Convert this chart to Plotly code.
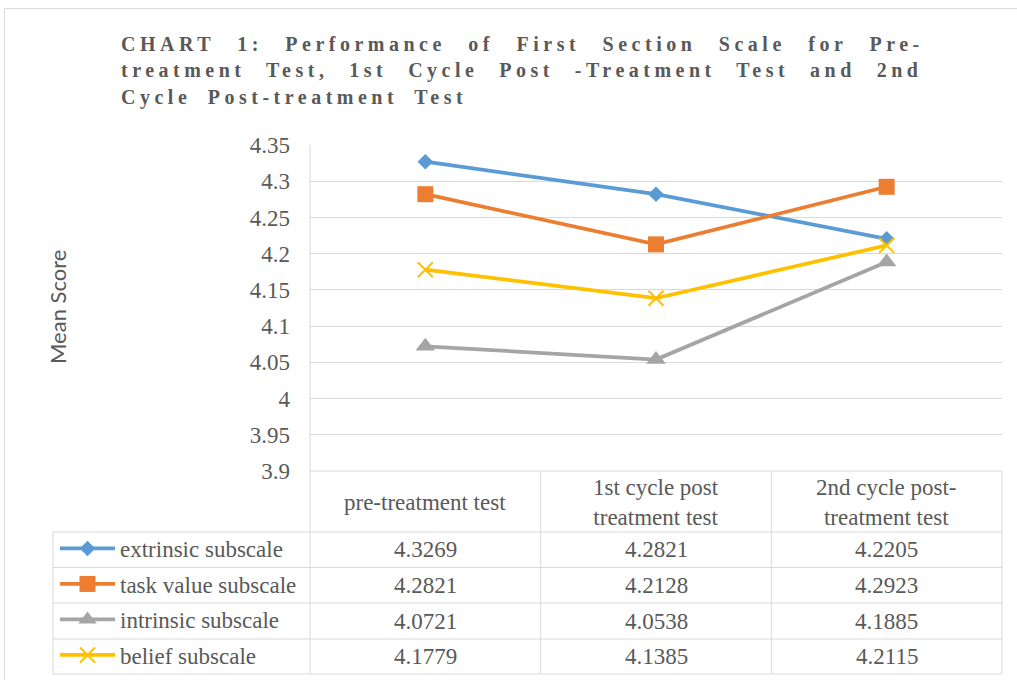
import plotly.graph_objects as go

# ---------------- data ----------------
categories = ["pre-treatment test", "1st cycle post treatment test", "2nd cycle post-treatment test"]
header_labels = ["pre-treatment test", "1st cycle post<br>treatment test", "2nd cycle post-<br>treatment test"]

series_names = ["extrinsic subscale", "task value subscale", "intrinsic subscale", "belief subscale"]
extrinsic = [4.3269, 4.2821, 4.2205]
task_value = [4.2821, 4.2128, 4.2923]
intrinsic = [4.0721, 4.0538, 4.1885]
belief = [4.1779, 4.1385, 4.2115]

tick_vals = [3.9, 3.95, 4.0, 4.05, 4.1, 4.15, 4.2, 4.25, 4.3, 4.35]
tick_text = ["3.9", "3.95", "4", "4.05", "4.1", "4.15", "4.2", "4.25", "4.3", "4.35"]

title_lines = [
    "CHART 1: Performance of First Section Scale for Pre-",
    "treatment Test, 1st Cycle Post -Treatment Test and 2nd",
    "Cycle Post-treatment Test",
]
y_title = "Mean Score"

# ---------------- styling ----------------
W, H = 1017, 680
colors = ["#5B9BD5", "#ED7D31", "#A5A5A5", "#FFC000"]
symbols = ["diamond", "square", "triangle-up", "x-thin"]
msizes = [12, 16, 17, 15]
TXT = "#595959"
GRID = "#D9D9D9"
SERIF = "Liberation Serif, Times New Roman, serif"
TFS = 23  # table / tick font size


def px_x(x):
    return x / W


def px_y(y):
    return 1 - y / H


plot_l, plot_r, plot_t, plot_b = 310, 1002, 145, 471
row_edges = [532, 567.5, 603, 639, 674]
row_centers = [(row_edges[i] + row_edges[i + 1]) / 2 for i in range(4)]

fig = go.Figure()
all_series = [extrinsic, task_value, intrinsic, belief]
for i, (name, vals) in enumerate(zip(series_names, all_series)):
    marker = dict(symbol=symbols[i], size=msizes[i], color=colors[i])
    if symbols[i] == "x-thin":
        marker["line"] = dict(color=colors[i], width=2)
    fig.add_trace(go.Scatter(
        x=categories, y=vals, name=name, mode="lines+markers",
        line=dict(color=colors[i], width=3.75),
        marker=marker, legendgroup=name,
    ))

annotations = []
# title lines (justified look via letter/word spacing)
title_styles = [
    "letter-spacing:4.5px;word-spacing:13px",
    "letter-spacing:4.5px;word-spacing:11.4px",
    "letter-spacing:4.5px;word-spacing:7px",
]
title_y = [44, 71, 98]
for line, st, yy in zip(title_lines, title_styles, title_y):
    annotations.append(dict(
        text=f'<span style="{st}">{line}</span>', xref="paper", yref="paper",
        x=px_x(119), y=px_y(yy), xanchor="left", yanchor="middle", showarrow=False,
        font=dict(family=SERIF, size=20, color=TXT, weight="bold"),
    ))

# y axis title
annotations.append(dict(
    text=y_title, xref="paper", yref="paper", x=px_x(58), y=px_y(307),
    xanchor="center", yanchor="middle", textangle=-90, showarrow=False,
    font=dict(family="Lato, Open Sans, sans-serif", size=22, color=TXT),
))

# table header
for c, lab in zip(categories, header_labels):
    annotations.append(dict(
        text=lab, xref="x", yref="paper", x=c, y=px_y(502),
        xanchor="center", yanchor="middle", showarrow=False,
        font=dict(family=SERIF, size=TFS, color=TXT),
    ))

# table values
for r, vals in enumerate(all_series):
    for c, v in zip(categories, vals):
        annotations.append(dict(
            text=f"{v:.4f}", xref="x", yref="paper", x=c, y=px_y(row_centers[r]),
            xanchor="center", yanchor="middle", showarrow=False,
            font=dict(family=SERIF, size=TFS, color=TXT),
        ))

shapes = []
line_style = dict(color=GRID, width=1)
# outer chart border
shapes.append(dict(type="rect", xref="paper", yref="paper",
                   x0=px_x(4.5), x1=px_x(1040), y0=px_y(8.5), y1=px_y(700),
                   line=line_style, layer="below"))
# table horizontal lines
for ye in row_edges:
    shapes.append(dict(type="line", xref="paper", yref="paper",
                       x0=px_x(53), x1=px_x(plot_r), y0=px_y(ye), y1=px_y(ye), line=line_style))
shapes.append(dict(type="line", xref="paper", yref="paper",
                   x0=px_x(plot_l), x1=px_x(plot_r), y0=px_y(plot_b), y1=px_y(plot_b), line=line_style))
# vertical lines
shapes.append(dict(type="line", xref="paper", yref="paper",
                   x0=px_x(plot_l), x1=px_x(plot_l), y0=px_y(plot_t), y1=px_y(674), line=line_style))
for xb in [0.5, 1.5]:
    shapes.append(dict(type="line", xref="x", yref="paper",
                       x0=xb, x1=xb, y0=px_y(plot_b), y1=px_y(674), line=line_style))
shapes.append(dict(type="line", xref="paper", yref="paper",
                   x0=px_x(plot_r), x1=px_x(plot_r), y0=px_y(plot_b), y1=px_y(674), line=line_style))
shapes.append(dict(type="line", xref="paper", yref="paper",
                   x0=px_x(53), x1=px_x(53), y0=px_y(row_edges[0]), y1=px_y(674), line=line_style))

fig.update_layout(
    width=W, height=H,
    margin=dict(l=0, r=0, t=0, b=0, pad=0, autoexpand=False),
    paper_bgcolor="white", plot_bgcolor="white",
    xaxis=dict(domain=[px_x(plot_l), px_x(plot_r)], type="category",
               range=[-0.5, 2.5], showticklabels=False, showgrid=False,
               zeroline=False, showline=False, ticks="", automargin=False),
    yaxis=dict(domain=[px_y(plot_b), px_y(plot_t)], range=[3.9, 4.35],
               tickvals=tick_vals, ticktext=tick_text, showgrid=True,
               gridcolor=GRID, gridwidth=1, zeroline=False, showline=False,
               ticks="", ticklabelstandoff=19, automargin=False,
               tickfont=dict(family=SERIF, size=TFS, color=TXT)),
    showlegend=True,
    legend=dict(x=px_x(55), y=px_y(row_edges[0] - 5), xanchor="left", yanchor="top",
                orientation="v", itemwidth=55, tracegroupgap=2.6,
                bgcolor="rgba(0,0,0,0)", borderwidth=0,
                font=dict(family=SERIF, size=TFS, color=TXT)),
    annotations=annotations, shapes=shapes,
)

fig.write_html("out.html", config={"displayModeBar": False},
               post_script="document.body.style.margin='0px';")
